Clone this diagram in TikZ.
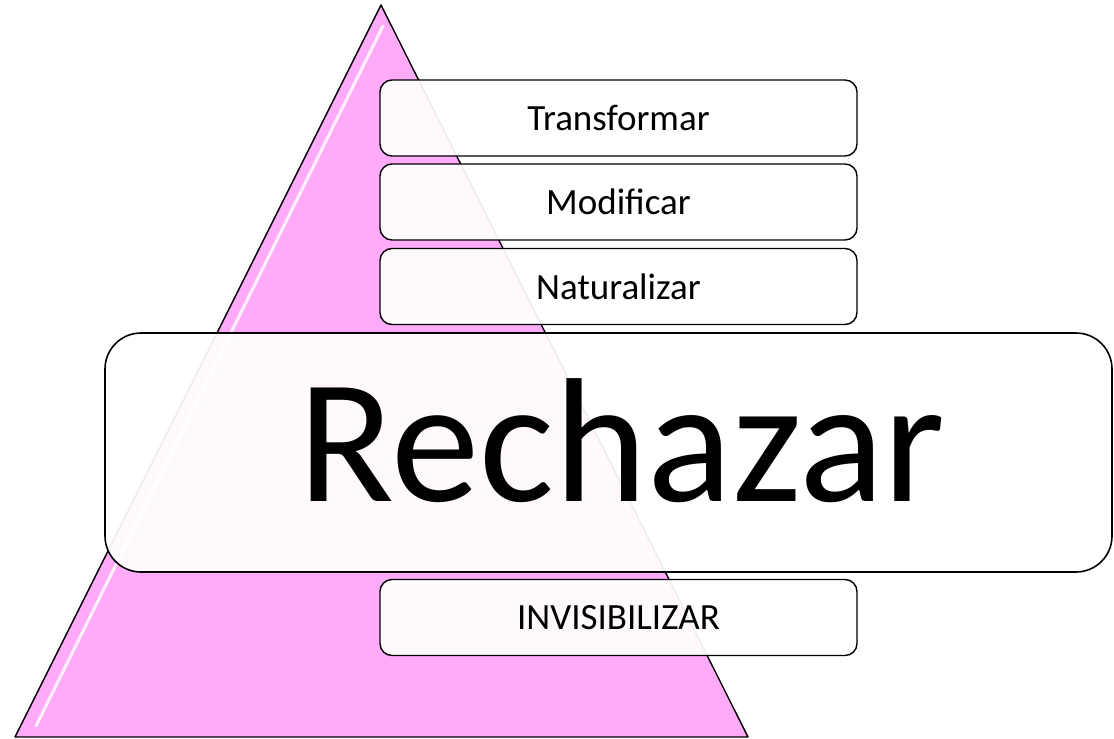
\documentclass[tikz,border=0pt]{standalone}
\usepackage{fontspec}
\setmainfont{Carlito}
\definecolor{pinktri}{RGB}{255,171,250}
\begin{document}
\begin{tikzpicture}[x=1pt,y=-1pt,
  smallbox/.style={draw=black, line width=1.4pt, fill=white, fill opacity=0.93, text opacity=1,
    rounded corners=12pt, minimum width=477pt, minimum height=76pt, inner sep=0pt,
    font=\fontsize{37}{40}\selectfont},
  bigbox/.style={draw=black, line width=1.6pt, fill=white, fill opacity=0.93,
    rounded corners=36pt, minimum width=1007pt, minimum height=239pt, inner sep=0pt}]
\useasboundingbox (0,0) rectangle (1114,739);
% triangle
\coordinate (apex) at (381,5);
\coordinate (bl) at (15,737);
\coordinate (br) at (748,737);
\draw[fill=pinktri, line width=1.4pt, line join=round] (apex) -- (br) -- (bl) -- cycle;
\coordinate (h1) at (383,26);
\coordinate (h2) at (36,726);
\draw[white, opacity=0.85, line width=3pt, line cap=round] (h1) -- (h2);
% boxes
\node[smallbox] (transf) at (618.5,118) {Transformar};
\node[smallbox] (modif) at (618.5,202) {Modificar};
\node[smallbox] (natur) at (618.5,286.5) {Naturalizar};
\node[bigbox] (rech) at (608.5,452.5) {};
\node[anchor=base, inner sep=0pt, font=\fontsize{177}{180}\selectfont] (rechtxt) at (622,501) {Rechazar};
\node[smallbox] (invis) at (618.5,617.5) {INVISIBILIZAR};
\end{tikzpicture}
\end{document}
